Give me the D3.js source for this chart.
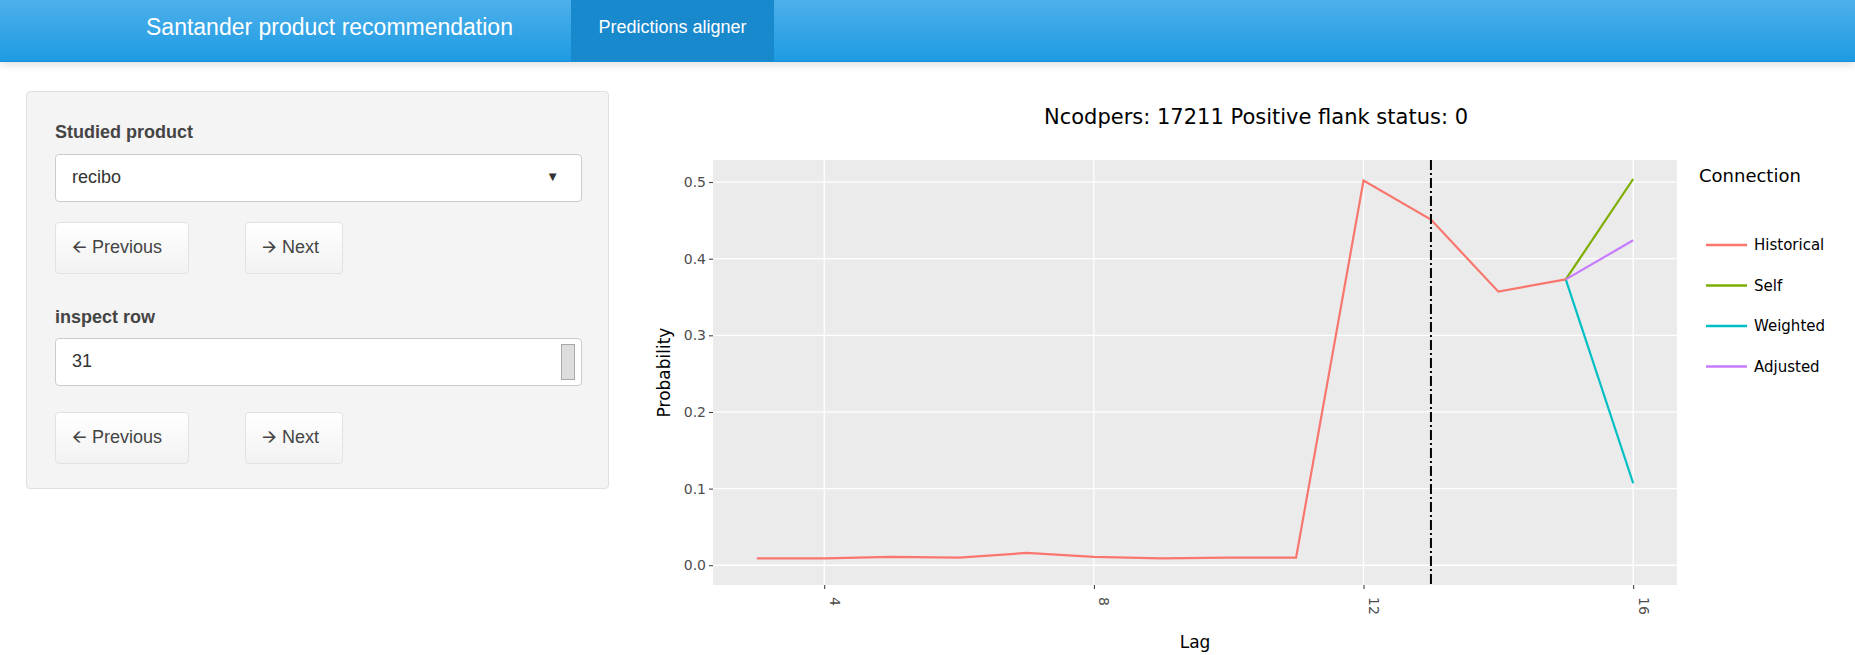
<!DOCTYPE html>
<html>
<head>
<meta charset="utf-8">
<script src="https://cdnjs.cloudflare.com/ajax/libs/d3/7.8.5/d3.min.js"></script>
<style>
body{margin:0;font-family:"Liberation Sans",Arial,sans-serif;background:#fff;width:1855px;height:655px;overflow:hidden;position:relative}
.nav{position:absolute;left:0;top:0;width:1855px;height:61px;background:linear-gradient(#4db0ea,#1e9be3);border-bottom:1px solid #1a8ed4;box-shadow:0 3px 8px rgba(0,0,0,0.12)}
.brand{position:absolute;left:146px;top:14px;color:#fff;font-size:23px}
.tab{position:absolute;left:571px;top:0;width:203px;height:61px;background:#1889cc;color:#fff;font-size:18px;line-height:55px;text-align:center}
.well{position:absolute;left:26px;top:91px;width:581px;height:396px;background:#f4f4f4;border:1px solid #e0e0e0;border-radius:4px}
.lab{position:absolute;left:28px;font-weight:bold;color:#444;font-size:18px}
.box{position:absolute;left:28px;width:525px;height:46px;background:#fff;border:1px solid #ccc;border-radius:4px;font-size:18px;color:#333;line-height:44px;text-indent:16px}
.btn{position:absolute;height:50px;background:linear-gradient(#fff,#f2f2f2);border:1px solid #e2e2e2;border-radius:4px;font-size:18px;color:#444;line-height:48px;text-indent:16px}
</style>
</head>
<body>
<div class="nav"><div class="brand">Santander product recommendation</div><div class="tab">Predictions aligner</div></div>
<div class="well">
  <div class="lab" style="top:30px">Studied product</div>
  <div class="box" style="top:62px">recibo<span style="position:absolute;right:22px;top:0;font-size:13px">&#9660;</span></div>
  <div class="btn" style="left:28px;top:130px;width:132px">&#129128; Previous</div>
  <div class="btn" style="left:218px;top:130px;width:96px">&#129130; Next</div>
  <div class="lab" style="top:215px">inspect row</div>
  <div class="box" style="top:246px">31<span style="position:absolute;right:6px;top:5px;width:12px;height:34px;background:#ddd;border:1px solid #aaa"></span></div>
  <div class="btn" style="left:28px;top:320px;width:132px">&#129128; Previous</div>
  <div class="btn" style="left:218px;top:320px;width:96px">&#129130; Next</div>
</div>
<svg id="chart" width="1855" height="655" style="position:absolute;left:0;top:0"></svg>
<script>
var histLag = [3,4,5,6,7,8,9,10,11,12,13,14,15];
var histVal = [0.009,0.009,0.011,0.010,0.016,0.011,0.009,0.010,0.010,0.502,0.451,0.357,0.373];
var branchNames = ["Self","Weighted","Adjusted"];
var branchVal = [0.504,0.107,0.424];
var seriesNames = ["Historical","Self","Weighted","Adjusted"];
var seriesColors = ["#F8766D","#7CAE00","#00BFC4","#C77CFF"];
var xTicks = [4,8,12,16];
var yTicks = [0,0.1,0.2,0.3,0.4,0.5];
var cutLag = 13;

var svg = d3.select("#chart");
var L = 713, R = 1677, T = 160, B = 585;
var x = d3.scaleLinear().domain([2.35,16.65]).range([L,R]);
var y = d3.scaleLinear().domain([-0.0258,0.5288]).range([B,T]);
var color = d3.scaleOrdinal().domain(seriesNames).range(seriesColors);

svg.append("rect").attr("x",L).attr("y",T).attr("width",R-L).attr("height",B-T).attr("fill","#ebebeb");
svg.selectAll(".gy").data(yTicks).enter().append("line")
  .attr("x1",L).attr("x2",R).attr("y1",d=>y(d)).attr("y2",d=>y(d)).attr("stroke","#fff").attr("stroke-width",1.3);
svg.selectAll(".gx").data(xTicks).enter().append("line")
  .attr("y1",T).attr("y2",B).attr("x1",d=>x(d)).attr("x2",d=>x(d)).attr("stroke","#fff").attr("stroke-width",1.3);

var yAxis = svg.append("g").attr("transform","translate("+L+",0)")
  .call(d3.axisLeft(y).tickValues(yTicks).tickFormat(d3.format(".1f")).tickSize(4).tickPadding(3));
var xAxis = svg.append("g").attr("transform","translate(0,"+B+")")
  .call(d3.axisBottom(x).tickValues(xTicks).tickSize(4));
[yAxis,xAxis].forEach(function(a){
  a.select(".domain").remove();
  a.selectAll("line").attr("stroke","#333");
  a.selectAll("text").attr("fill","#4d4d4d").style("font-size","14px").style("font-family","DejaVu Sans");
});
xAxis.selectAll("text").attr("transform","rotate(90)").attr("x",12).attr("y",-5).attr("dy","0").style("text-anchor","start");

var line = d3.line().x(d=>x(d[0])).y(d=>y(d[1]));
var last = [histLag[histLag.length-1], histVal[histVal.length-1]];
branchNames.forEach(function(n,i){
  svg.append("path").datum([last,[16,branchVal[i]]]).attr("d",line)
    .attr("fill","none").attr("stroke",color(n)).attr("stroke-width",2.2);
});
svg.append("path").datum(histLag.map((l,i)=>[l,histVal[i]])).attr("d",line)
  .attr("fill","none").attr("stroke",color("Historical")).attr("stroke-width",2.2);

svg.append("line").attr("x1",x(cutLag)).attr("x2",x(cutLag)).attr("y1",T).attr("y2",B)
  .attr("stroke","#000").attr("stroke-width",2).attr("stroke-dasharray","10,3,2,3");

svg.append("text").attr("x",1256).attr("y",124).attr("text-anchor","middle")
  .style("font-family","DejaVu Sans").style("font-size","21px").text("Ncodpers: 17211 Positive flank status: 0");
svg.append("text").attr("x",1195).attr("y",648).attr("text-anchor","middle")
  .style("font-family","DejaVu Sans").style("font-size","17px").text("Lag");
svg.append("text").attr("transform","translate(670,"+((T+B)/2)+") rotate(-90)").attr("text-anchor","middle")
  .style("font-family","DejaVu Sans").style("font-size","17px").text("Probability");

var lg = svg.append("g");
lg.append("text").attr("x",1699).attr("y",182).style("font-family","DejaVu Sans").style("font-size","18px").text("Connection");
var it = lg.selectAll(".it").data(seriesNames).enter().append("g")
  .attr("transform",(d,i)=>"translate(1706,"+(245+i*40.5)+")");
it.append("line").attr("x1",0).attr("x2",41).attr("stroke",d=>color(d)).attr("stroke-width",2.5);
it.append("text").attr("x",48).attr("y",5).style("font-family","DejaVu Sans").style("font-size","15px").text(d=>d);
</script>
</body>
</html>
